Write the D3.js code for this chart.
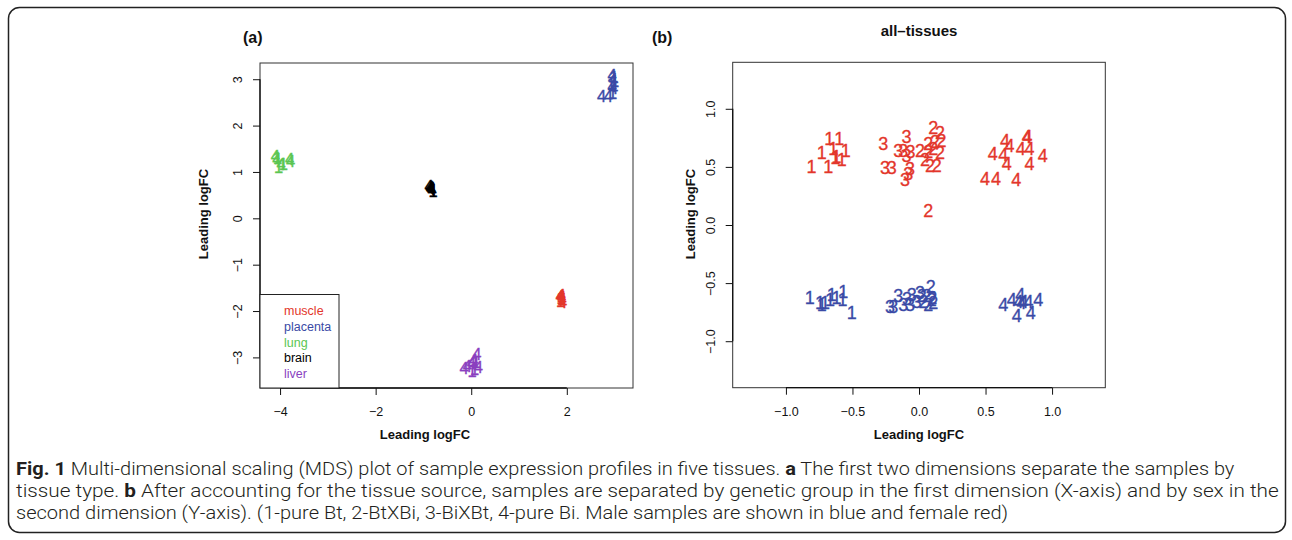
<!DOCTYPE html>
<html>
<head>
<meta charset="utf-8">
<script src="https://cdn.jsdelivr.net/npm/d3@7"></script>
<style>
  body { margin: 0; background: #fff; }
  svg { display: block; }
  text { font-family: "Liberation Sans", Arial, Helvetica, sans-serif; }
</style>
</head>
<body>
<div class="chart"></div>
<script>
// ---- data ----
const tissues = ["muscle", "placenta", "lung", "brain", "liver"];
const tissueColors = ["#e3362b", "#3a4aa6", "#5bc652", "#000000", "#8a3fbf"];

// panel (a): [dim1, dim2, label]
const muscleA = [[1.86, -1.68, "4"], [1.88, -1.72, "1"], [1.90, -1.75, "4"], [1.89, -1.70, "4"], [1.87, -1.78, "1"], [1.91, -1.80, "4"], [1.88, -1.66, "4"]];
const placentaA = [[2.73, 2.63, "4"], [2.87, 2.63, "4"], [2.95, 3.10, "4"], [2.97, 3.00, "4"], [2.93, 2.90, "1"], [2.98, 2.80, "4"], [2.96, 2.70, "1"], [3.00, 2.95, "1"], [2.99, 3.05, "1"], [2.95, 2.85, "4"]];
const lungA = [[-4.10, 1.35, "4"], [-4.07, 1.28, "4"], [-4.05, 1.30, "1"], [-4.03, 1.10, "1"], [-3.98, 1.17, "4"], [-3.93, 1.18, "1"], [-3.80, 1.27, "4"], [-3.78, 1.24, "4"]];
const brainA = [[-0.88, 0.70, "4"], [-0.85, 0.66, "4"], [-0.83, 0.63, "4"], [-0.86, 0.68, "4"], [-0.82, 0.60, "4"], [-0.84, 0.65, "4"], [-0.80, 0.58, "1"]];
const liverA = [[-0.15, -3.22, "4"], [-0.08, -3.18, "4"], [0.00, -3.12, "4"], [0.05, -3.05, "4"], [0.12, -2.92, "4"], [0.15, -3.20, "4"], [0.02, -3.30, "1"], [0.07, -3.25, "1"], [0.10, -3.10, "1"]];
const panelA = [muscleA, placentaA, lungA, brainA, liverA];

// panel (b): [dim1, dim2, genetic group]
const femaleB = [
  [-0.807, 0.50, "1"], [-0.682, 0.50, "1"], [-0.73, 0.62, "1"], [-0.674, 0.74, "1"], [-0.60, 0.74, "1"],
  [-0.644, 0.66, "1"], [-0.62, 0.59, "1"], [-0.55, 0.645, "1"], [-0.58, 0.565, "1"], [-0.63, 0.58, "1"],
  [-0.268, 0.697, "3"], [-0.093, 0.765, "3"], [-0.256, 0.497, "3"], [-0.205, 0.497, "3"], [-0.156, 0.64, "3"],
  [-0.118, 0.64, "3"], [-0.093, 0.60, "3"], [-0.063, 0.63, "3"], [-0.068, 0.49, "3"], [-0.08, 0.44, "3"], [-0.105, 0.39, "3"],
  [0.108, 0.84, "2"], [0.158, 0.80, "2"], [0.07, 0.70, "2"], [0.12, 0.72, "2"], [0.17, 0.725, "2"],
  [0.0075, 0.64, "2"], [0.07, 0.63, "2"], [0.108, 0.66, "2"], [0.158, 0.62, "2"], [0.045, 0.56, "2"],
  [0.083, 0.51, "2"], [0.133, 0.51, "2"], [0.07, 0.125, "2"],
  [0.554, 0.617, "4"], [0.647, 0.73, "4"], [0.68, 0.68, "4"], [0.634, 0.61, "4"], [0.66, 0.525, "4"],
  [0.765, 0.66, "4"], [0.83, 0.66, "4"], [0.81, 0.76, "4"], [0.815, 0.765, "4"], [0.93, 0.594, "4"],
  [0.83, 0.525, "4"], [0.496, 0.40, "4"], [0.579, 0.40, "4"], [0.73, 0.39, "4"]
];
const maleB = [
  [-0.82, -0.626, "1"], [-0.744, -0.668, "1"], [-0.707, -0.668, "1"], [-0.669, -0.64, "1"], [-0.656, -0.597, "1"],
  [-0.619, -0.626, "1"], [-0.569, -0.569, "1"], [-0.574, -0.64, "1"], [-0.506, -0.754, "1"], [-0.73, -0.68, "1"],
  [-0.193, -0.70, "3"], [-0.156, -0.61, "3"], [-0.118, -0.68, "3"], [-0.055, -0.60, "3"], [-0.068, -0.68, "3"],
  [0.0075, -0.58, "3"], [-0.017, -0.655, "3"], [-0.218, -0.703, "3"], [-0.09, -0.63, "3"],
  [0.088, -0.526, "2"], [0.058, -0.61, "2"], [0.095, -0.64, "2"], [0.108, -0.668, "2"], [0.033, -0.655, "2"],
  [0.07, -0.683, "2"], [0.02, -0.61, "2"], [0.10, -0.62, "2"],
  [0.634, -0.683, "4"], [0.697, -0.64, "4"], [0.76, -0.597, "4"], [0.747, -0.655, "4"], [0.785, -0.655, "4"],
  [0.822, -0.655, "4"], [0.897, -0.64, "4"], [0.734, -0.783, "4"], [0.84, -0.754, "4"], [0.77, -0.67, "4"]
];
const femaleColor = "#e3362b";
const maleColor = "#3a4aa6";

const aTicksX = [-4, -2, 0, 2];
const aTicksY = [-3, -2, -1, 0, 1, 2, 3];
const bTicks = [-1, -0.5, 0, 0.5, 1];

const captionLines = [
  [["Fig. 1", true], [" Multi-dimensional scaling (MDS) plot of sample expression profiles in five tissues. ", false], ["a", true], [" The first two dimensions separate the samples by", false]],
  [["tissue type. ", false], ["b", true], [" After accounting for the tissue source, samples are separated by genetic group in the first dimension (X-axis) and by sex in the", false]],
  [["second dimension (Y-axis). (1-pure Bt, 2-BtXBi, 3-BiXBt, 4-pure Bi. Male samples are shown in blue and female red)", false]]
];
const captionWidths = [1219, 1263, 993];

// ---- drawing ----
const W = 1292, H = 540;
const svg = d3.select(".chart").append("svg").attr("width", W).attr("height", H);

svg.append("rect")
  .attr("x", 8.5).attr("y", 7.5).attr("width", 1277).attr("height", 525)
  .attr("rx", 11).attr("fill", "none").attr("stroke", "#222").attr("stroke-width", 1.5);

const fmtMinus = d => String(d).replace("-", "\u2212");
const fmtB = d => d3.format(".1f")(d).replace("-", "\u2212");

function panel(cfg) {
  const x = d3.scaleLinear().domain(cfg.xd).range([cfg.x0, cfg.x1]);
  const y = d3.scaleLinear().domain(cfg.yd).range([cfg.y1, cfg.y0]);
  const g = svg.append("g");

  g.append("rect")
    .attr("x", cfg.x0).attr("y", cfg.y0)
    .attr("width", cfg.x1 - cfg.x0).attr("height", cfg.y1 - cfg.y0)
    .attr("fill", "none").attr("stroke", "#333").attr("stroke-width", 1);

  // x axis, R style: line only from first to last tick
  const xa = g.append("g").attr("transform", `translate(0,${cfg.y1})`)
    .call(d3.axisBottom(x).tickValues(cfg.xt).tickSize(7).tickPadding(12).tickFormat(cfg.fmt));
  xa.select(".domain").remove();
  xa.append("line").attr("x1", x(cfg.xt[0])).attr("x2", x(cfg.xt[cfg.xt.length - 1]))
    .attr("stroke", "#111").attr("stroke-width", 1.3);

  const ya = g.append("g").attr("transform", `translate(${cfg.x0},0)`)
    .call(d3.axisLeft(y).tickValues(cfg.yt).tickSize(7).tickFormat(cfg.fmt));
  ya.select(".domain").remove();
  ya.append("line").attr("y1", y(cfg.yt[0])).attr("y2", y(cfg.yt[cfg.yt.length - 1]))
    .attr("stroke", "#111").attr("stroke-width", 1.3);
  ya.selectAll(".tick text")
    .attr("x", null).attr("dy", "0.35em")
    .attr("text-anchor", "middle")
    .attr("transform", "translate(-22,0) rotate(-90)");

  [xa, ya].forEach(a => {
    a.selectAll(".tick line").attr("stroke", "#111");
    a.selectAll(".tick text").attr("fill", "#111").style("font-size", "12.5px")
      .style("font-family", '"Liberation Sans", Arial, sans-serif');
  });

  g.append("text").attr("x", cfg.xtx).attr("y", 439)
    .attr("text-anchor", "middle").style("font-weight", "bold").style("font-size", "13px")
    .attr("fill", "#111").text("Leading logFC");
  g.append("text").attr("transform", `translate(${cfg.ytx},214) rotate(-90)`)
    .attr("dy", "0.35em").attr("text-anchor", "middle")
    .style("font-weight", "bold").style("font-size", "13px")
    .attr("fill", "#111").text("Leading logFC");

  g.append("text").attr("x", cfg.tagX).attr("y", 43)
    .style("font-weight", "bold").style("font-size", "16px").attr("fill", "#111").text(cfg.tag);
  return { g, x, y };
}

// panel (a)
const pa = panel({
  x0: 260, x1: 633, y0: 63, y1: 388,
  xd: [-4.42, 3.385], yd: [-3.66, 3.35],
  xt: aTicksX, yt: aTicksY, fmt: fmtMinus,
  xtx: 425, ytx: 203.5, tag: "(a)", tagX: 243
});
panelA.forEach((pts, i) => {
  pa.g.append("g").selectAll("text").data(pts).join("text")
    .attr("x", d => pa.x(d[0])).attr("y", d => pa.y(d[1]))
    .attr("dy", "0.36em").attr("text-anchor", "middle")
    .attr("font-size", 16.5).attr("fill", tissueColors[i])
    .attr("stroke", tissueColors[i]).attr("stroke-width", 0.35)
    .text(d => d[2]);
});

// legend
const leg = pa.g.append("g");
leg.append("rect").attr("x", 260).attr("y", 294.5).attr("width", 79).attr("height", 93.5)
  .attr("fill", "#fff").attr("stroke", "#222").attr("stroke-width", 1);
leg.selectAll("text.item").data(tissues).join("text").attr("class", "item")
  .attr("x", 284).attr("y", (d, i) => 311 + i * 15.6).attr("dy", "0.35em")
  .style("font-size", "12.5px").attr("fill", (d, i) => tissueColors[i]).text(d => d);

// panel (b)
const pb = panel({
  x0: 732.7, x1: 1105.3, y0: 62.3, y1: 387.7,
  xd: [-1.4, 1.4], yd: [-1.4, 1.4],
  xt: bTicks, yt: bTicks, fmt: fmtB,
  xtx: 919, ytx: 690, tag: "(b)", tagX: 652
});
pb.g.append("text").attr("x", 919).attr("y", 36).attr("text-anchor", "middle")
  .style("font-weight", "bold").style("font-size", "15px").attr("fill", "#111").text("all\u2013tissues");
[[femaleB, femaleColor], [maleB, maleColor]].forEach(([pts, col]) => {
  pb.g.append("g").selectAll("text").data(pts).join("text")
    .attr("x", d => pb.x(d[0])).attr("y", d => pb.y(d[1]))
    .attr("dy", "0.36em").attr("text-anchor", "middle")
    .attr("font-size", 18).attr("fill", col)
    .attr("stroke", col).attr("stroke-width", 0.3)
    .text(d => d[2]);
});

// caption
captionLines.forEach((parts, i) => {
  const t = svg.append("text").attr("x", 0).attr("y", 0)
    .style("font-family", 'Roboto, "Open Sans", sans-serif')
    .style("font-size", "17.5px").attr("fill", "#231f20");
  parts.forEach(p => {
    t.append("tspan").style("font-weight", p[1] ? "bold" : "300").text(p[0]);
  });
  const w = t.node().getComputedTextLength();
  const k = captionWidths[i] / w;
  t.attr("transform", `translate(16,${474.5 + i * 22}) scale(${k},1)`);
});
</script>
</body>
</html>
